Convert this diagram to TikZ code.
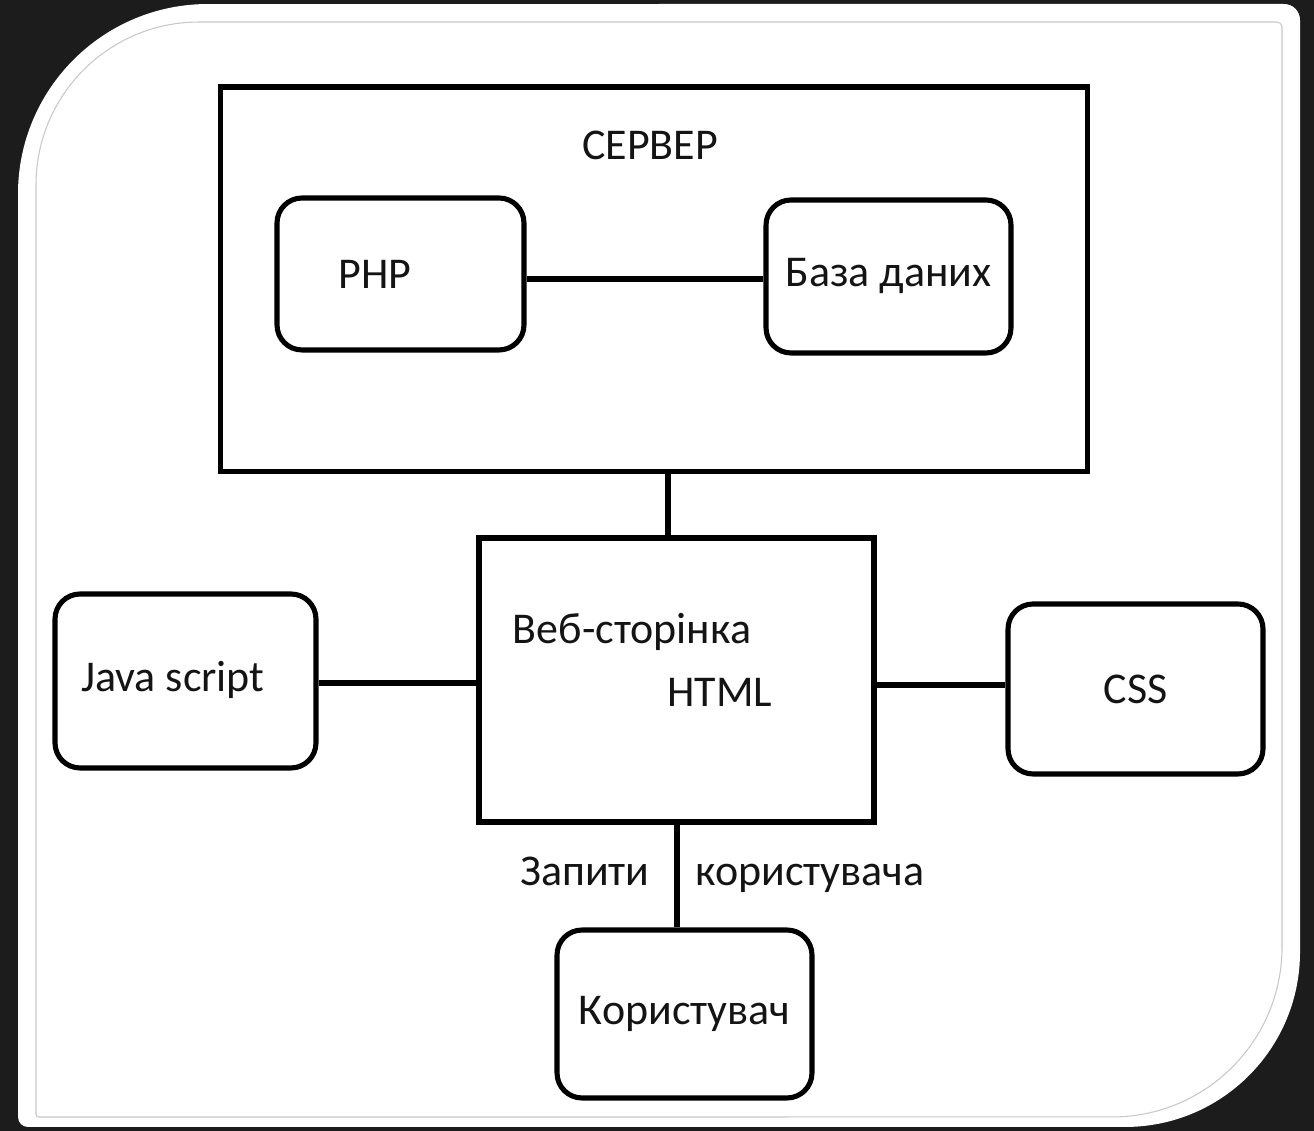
\documentclass[tikz,border=0pt]{standalone}
\usepackage{fontspec}
\setmainfont{Carlito}
\usepackage{tikz}
\usetikzlibrary{positioning, calc}
\definecolor{slidebg}{RGB}{28,28,28}
\definecolor{frameline}{RGB}{200,200,200}
\definecolor{inkblack}{RGB}{20,20,20}

\begin{document}
\begin{tikzpicture}[
  x=0.02cm, y=0.02cm,
  font=\fontsize{25}{30}\selectfont, text=inkblack,
  box/.style={draw=black, line width=2.9pt, rounded corners=0.5cm,
              inner sep=0pt},
  plainbox/.style={draw=black, line width=2.9pt, inner sep=0pt},
  link/.style={line width=2.9pt, black},
]

% slide background and card
\fill[slidebg] (0,0) rectangle (1314,1131);
\fill[white] (18,14) -- (18,937)
  arc[start angle=180, end angle=90, radius=3.8cm] -- (1284,1127)
  arc[start angle=90, end angle=0, radius=0.32cm] -- (1300,179)
  arc[start angle=0, end angle=-90, radius=3.5cm] -- (28,4)
  arc[start angle=270, end angle=180, radius=0.2cm] -- cycle;
\draw[frameline, line width=0.6pt] (36,17) -- (36,946)
  arc[start angle=180, end angle=90, radius=3.26cm] -- (1277,1109)
  arc[start angle=90, end angle=0, radius=0.1cm] -- (1282,184)
  arc[start angle=0, end angle=-90, radius=3.4cm] -- (39,14)
  arc[start angle=270, end angle=180, radius=0.06cm] -- cycle;

% server
\node[plainbox, minimum width=17.36cm, minimum height=7.7cm] (server) at (654,851.5) {};
\node (servertitle) at (650,986) {СЕРВЕР};
\node[box, minimum width=4.94cm, minimum height=3.04cm,
      label={[xshift=-0.51cm]center:PHP}] (php) at (400.5,857) {};
\node[box, minimum width=4.9cm, minimum height=3.06cm] (db) at (888.5,854.5) {База даних};

% web page and neighbours
\node[plainbox, minimum width=7.9cm, minimum height=5.68cm,
      label={[xshift=-0.89cm, yshift=0.96cm]center:Веб-сторінка},
      label={[xshift=0.87cm, yshift=-0.24cm]center:HTML}] (web) at (676.5,451) {};
\node[box, minimum width=5.22cm, minimum height=3.48cm] (js) at (185.5,450) {};
\node (jstext) at (173,451) {Java script};
\node[box, minimum width=5.1cm, minimum height=3.4cm] (css) at (1135.5,442) {CSS};
\node[box, minimum width=5.1cm, minimum height=3.36cm] (user) at (684.5,117) {Користувач};

\draw[link] (php.east |- 0,852) -- (db.west |- 0,852);
\draw[link] (web.north -| 668,0) -- (server.south -| 668,0);
\draw[link] (js.east |- 0,448) -- (web.west |- 0,448);
\draw[link] (web.east |- 0,446) -- (css.west |- 0,446);
\draw[link] (web.south -| 677,0) -- (user.north -| 677,0);

\node[anchor=base] (reqleft) at (585,245) {Запити};
\node[anchor=base] (reqright) at (810,245) {користувача};

\end{tikzpicture}
\end{document}
